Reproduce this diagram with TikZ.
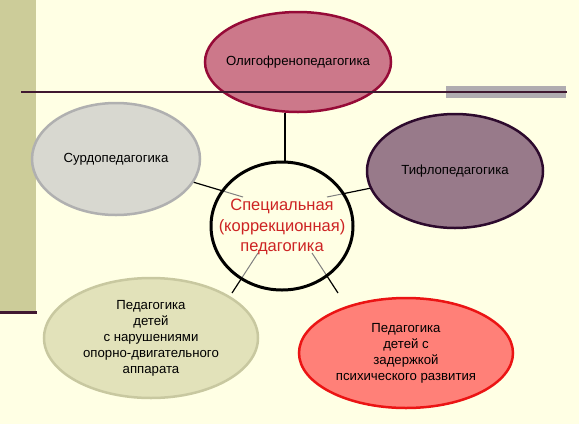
\documentclass[tikz,border=0pt]{standalone}
\usepackage{fontspec}
\setmainfont{Liberation Sans}
\usetikzlibrary{shapes.geometric}
\definecolor{bgcream}{RGB}{255,255,228}
\definecolor{barkhaki}{RGB}{204,204,153}
\definecolor{ruleplum}{RGB}{64,24,48}
\definecolor{bargray}{RGB}{176,172,176}
\definecolor{oligfill}{RGB}{204,120,138}
\definecolor{oligline}{RGB}{150,10,55}
\definecolor{surdfill}{RGB}{216,216,208}
\definecolor{surdline}{RGB}{176,176,176}
\definecolor{tiflfill}{RGB}{152,122,138}
\definecolor{tiflline}{RGB}{45,10,45}
\definecolor{motorfill}{RGB}{226,226,186}
\definecolor{motorline}{RGB}{200,200,160}
\definecolor{zprfill}{RGB}{255,128,120}
\definecolor{zprline}{RGB}{235,20,20}
\definecolor{corered}{RGB}{205,35,35}

\begin{document}
\begin{tikzpicture}[x=1pt,y=-1pt,
  branch/.style={ellipse, line width=2.5pt, inner sep=0pt, align=center,
    font=\fontsize{13.2}{16}\selectfont},
  link/.style={line width=1.2pt},
  faint/.style={line width=1pt, gray}]
  % Background and frame
  \fill[bgcream] (0,0) rectangle (579,424);
  \useasboundingbox (0,0) rectangle (579,424);
  \fill[barkhaki] (0,0) rectangle (36,311);
  \draw[ruleplum, line width=3pt] (0,312.5) -- (37,312.5);
  \fill[bargray] (446,86) rectangle (566,98);

  % Branches
  \node[branch, draw=oligline, fill=oligfill, inner xsep=-8pt, minimum width=186pt, minimum height=100pt] (olig) at (298,62) {Олигофренопедагогика};
  \node[branch, draw=surdline, fill=surdfill, minimum width=168pt, minimum height=112pt] (surdo) at (116,159) {Сурдопедагогика};
  \node[branch, draw=tiflline, fill=tiflfill, minimum width=176pt, minimum height=114pt] (tiflo) at (455,171) {Тифлопедагогика};
  \node[branch, draw=motorline, fill=motorfill, minimum width=214pt, minimum height=120pt] (motor) at (151,338) {Педагогика\\детей\\с нарушениями\\опорно-двигательного\\аппарата};
  \node[branch, draw=zprline, fill=zprfill, minimum width=214pt, minimum height=110pt] (zpr) at (406,353) {Педагогика\\детей с\\задержкой\\психического развития};

  % Horizontal rule
  \draw[ruleplum, line width=2.5pt] (21,92) -- (567,92);

  % Connectors
  \coordinate (inT) at (285,162);
  \coordinate (inL) at (243,197);
  \coordinate (inR) at (327,197);
  \coordinate (inBL) at (258,253);
  \coordinate (inBR) at (312,253);
  \coordinate (outBL) at (232,293);
  \coordinate (outBR) at (338,293);
  \draw[link] (inT |- olig.south) -- (inT);
  \draw[link] (surdo) -- (inL);
  \draw[link] (tiflo) -- (inR);
  \draw[link] (outBL) -- (inBL);
  \draw[link] (outBR) -- (inBR);

  % Centre
  \fill[bgcream] (282,226) ellipse (71pt and 64pt);
  \begin{scope}
    \clip (282,226) ellipse (71pt and 64pt);
    \draw[faint] (surdo) -- (inL);
    \draw[faint] (tiflo) -- (inR);
    \draw[faint] (outBL) -- (inBL);
    \draw[faint] (outBR) -- (inBR);
  \end{scope}
  \node[align=center, text=corered, inner sep=0pt,
    font=\fontsize{16.5}{20.5}\selectfont] (core) at (282,227) {Специальная\\(коррекционная)\\педагогика};
  \draw[line width=3pt] (core.center) ++(0,-1) ellipse (71pt and 64pt);
\end{tikzpicture}
\end{document}
